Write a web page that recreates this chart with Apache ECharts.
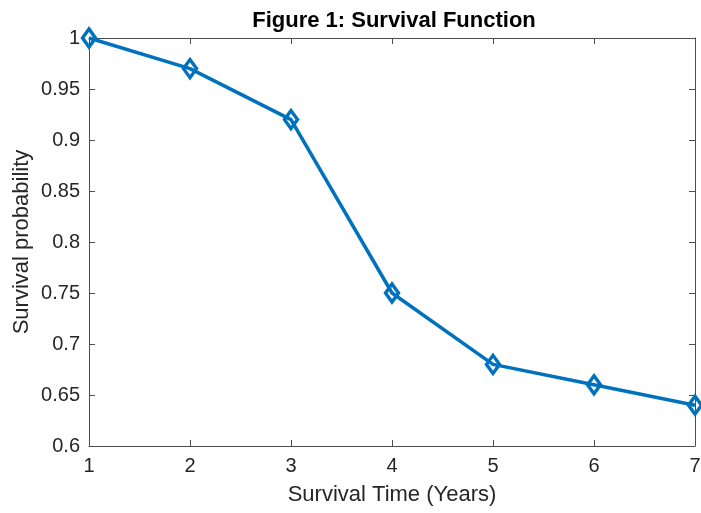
<!DOCTYPE html>
<html><head><meta charset="utf-8">
<script src="https://cdn.jsdelivr.net/npm/echarts@6/dist/echarts.min.js"></script>
<style>html,body{margin:0;padding:0;background:#fff}#c{width:701px;height:513px}</style>
</head><body><div id="c"></div>
<script>
const years = [1, 2, 3, 4, 5, 6, 7];
const survival = [1, 0.97, 0.92, 0.75, 0.68, 0.66, 0.64];
const titleText = 'Figure 1: Survival Function';
const xName = 'Survival Time (Years)';
const yName = 'Survival probability';

const chart = echarts.init(document.getElementById('c'));
const axisColor = '#4d4d4d';
const ff = 'Liberation Sans, Arial, sans-serif';
const labelStyle = {color: '#262626', fontFamily: ff, fontSize: 20};
const tickIn = {show: true, inside: true, length: 6, lineStyle: {color: axisColor, width: 1}};
chart.setOption({
  animation: false,
  backgroundColor: '#fff',
  title: {text: titleText, left: 389, top: 5, textAlign: 'center',
    textStyle: {fontFamily: ff, fontSize: 22, fontWeight: 'bold', color: '#000'}},
  grid: {left: 89, right: 6, top: 38, bottom: 67, containLabel: false, outerBoundsMode: 'none'},
  xAxis: [
    {type: 'value', min: 1, max: 7, interval: 1, position: 'bottom',
     name: xName, nameLocation: 'middle', nameGap: 38,
     nameTextStyle: {fontFamily: ff, fontSize: 22, color: '#262626'},
     axisLine: {show: true, onZero: false, lineStyle: {color: axisColor, width: 1}},
     axisTick: tickIn, axisLabel: Object.assign({margin: 10}, labelStyle), splitLine: {show: false}},
    {type: 'value', min: 1, max: 7, interval: 1, position: 'top',
     axisLine: {show: true, onZero: false, lineStyle: {color: axisColor, width: 1}},
     axisTick: tickIn, axisLabel: {show: false}, splitLine: {show: false}}
  ],
  yAxis: [
    {type: 'value', min: 0.6, max: 1, interval: 0.05, position: 'left',
     name: yName, nameLocation: 'middle', nameGap: 56, nameRotate: 90, nameMoveOverlap: false,
     nameTextStyle: {fontFamily: ff, fontSize: 22, color: '#262626'},
     axisLine: {show: true, onZero: false, lineStyle: {color: axisColor, width: 1}},
     axisTick: tickIn,
     axisLabel: Object.assign({margin: 9, formatter: v => String(+v.toFixed(2))}, labelStyle),
     splitLine: {show: false}},
    {type: 'value', min: 0.6, max: 1, interval: 0.05, position: 'right',
     axisLine: {show: true, onZero: false, lineStyle: {color: axisColor, width: 1}},
     axisTick: tickIn, axisLabel: {show: false}, splitLine: {show: false}}
  ],
  series: [{
    type: 'line',
    data: years.map((x, i) => [x, survival[i]]),
    symbol: 'diamond', symbolSize: [13, 18], showAllSymbol: true,
    lineStyle: {color: '#0072BD', width: 3.5},
    itemStyle: {color: 'rgba(0,0,0,0)', borderColor: '#0072BD', borderWidth: 3.5},
    clip: false, z: 5
  }]
});
</script></body></html>
